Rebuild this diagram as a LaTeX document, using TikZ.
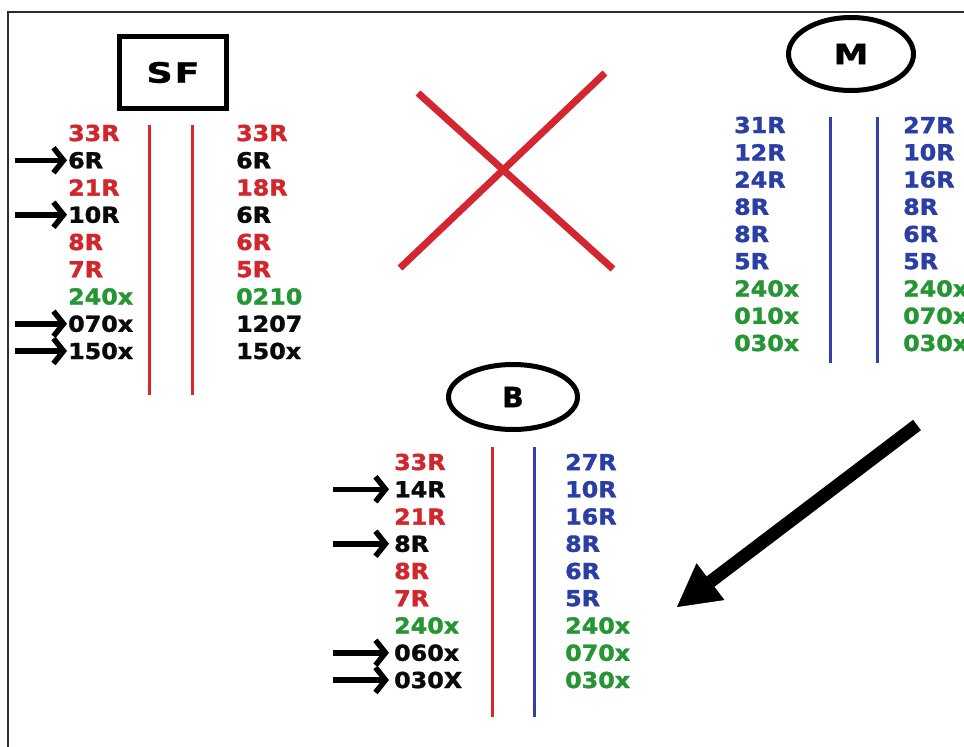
\documentclass[tikz,border=0pt]{standalone}
\usepackage{fontspec}
\usepackage{graphicx}
\setmainfont{DejaVu Sans}
\newfontfamily\numfont{DejaVu Sans}[UprightFont=* Bold,FakeStretch=1.08,FakeBold=1.6]
\newfontfamily\ttlfont{DejaVu Sans}[UprightFont=* Bold,FakeBold=1.2]
\usetikzlibrary{arrows.meta,shapes.geometric}
\definecolor{tred}{RGB}{208,38,44}
\definecolor{tblue}{RGB}{42,62,165}
\definecolor{tgreen}{RGB}{38,150,52}
\definecolor{tblack}{RGB}{10,10,10}
\definecolor{lred}{RGB}{214,40,40}
\definecolor{lblue}{RGB}{52,62,172}
\definecolor{xred}{RGB}{212,38,48}
\definecolor{framegray}{RGB}{45,45,45}
\begin{document}
\begin{tikzpicture}[x=1pt,y=-1pt,
  txt/.style={anchor=west,inner sep=0pt,font=\fontsize{22}{22}\numfont},
  title/.style={inner sep=0pt,line width=5pt,font=\fontsize{28}{28}\ttlfont},
  colline/.style={line width=3pt},
  sarrow/.style={line width=5.5pt,-{Straight Barb[length=10pt,width=25pt]}},
  bigarrow/.style={line width=13pt,-{Triangle[length=42pt,width=46pt,line width=0.5pt]}},
  crossline/.style={line width=7pt,xred}]
\useasboundingbox (0,0) rectangle (964,747);
\clip (0,0) rectangle (964,747);
% frame
\coordinate (f1) at (8,747);
\coordinate (f2) at (8,12);
\coordinate (f3) at (964,12);
\draw[line width=2.2pt,framegray] (f1) -- (f2) -- (f3);

% titles
\node[title,draw,rectangle,minimum width=107pt,minimum height=72pt] (SF) at (173,72.5) {\scalebox{1.3}[1]{S\kern1.5ptF}};
\node[title,draw,ellipse,minimum width=125pt,minimum height=73pt] (M) at (851,54) {\scalebox{1.25}[1]{M}};
\node[title,draw,ellipse,minimum width=129pt,minimum height=65pt] (B) at (513,397) {B};

% vertical lines
\coordinate (sfa1) at (149,125); \coordinate (sfa2) at (149,395);
\coordinate (sfb1) at (192,125); \coordinate (sfb2) at (192,395);
\draw[colline,lred] (sfa1) -- (sfa2);
\draw[colline,lred] (sfb1) -- (sfb2);
\coordinate (ma1) at (830,117); \coordinate (ma2) at (830,363);
\coordinate (mb1) at (877,117); \coordinate (mb2) at (877,363);
\draw[colline,lblue] (ma1) -- (ma2);
\draw[colline,lblue] (mb1) -- (mb2);
\coordinate (ba1) at (492,447); \coordinate (ba2) at (492,717);
\coordinate (bb1) at (534,447); \coordinate (bb2) at (534,717);
\draw[colline,lred] (ba1) -- (ba2);
\draw[colline,lblue] (bb1) -- (bb2);

% SF columns
\foreach \t/\c [count=\i] in {33R/tred,6R/tblack,21R/tred,10R/tblack,8R/tred,7R/tred,240x/tgreen,070x/tblack,150x/tblack}
  \node[txt,text=\c] (sfl\i) at (68,{133+27.25*(\i-1)}) {\t};
\foreach \t/\c [count=\i] in {33R/tred,6R/tblack,18R/tred,6R/tblack,6R/tred,5R/tred,0210/tgreen,1207/tblack,150x/tblack}
  \node[txt,text=\c] (sfr\i) at (236,{133+27.25*(\i-1)}) {\t};

% M columns
\foreach \t/\c [count=\i] in {31R/tblue,12R/tblue,24R/tblue,8R/tblue,8R/tblue,5R/tblue,240x/tgreen,010x/tgreen,030x/tgreen}
  \node[txt,text=\c] (ml\i) at (734,{125+27.25*(\i-1)}) {\t};
\foreach \t/\c [count=\i] in {27R/tblue,10R/tblue,16R/tblue,8R/tblue,6R/tblue,5R/tblue,240x/tgreen,070x/tgreen,030x/tgreen}
  \node[txt,text=\c] (mr\i) at (903,{125+27.25*(\i-1)}) {\t};

% B columns
\foreach \t/\c [count=\i] in {33R/tred,14R/tblack,21R/tred,8R/tblack,8R/tred,7R/tred,240x/tgreen,060x/tblack,030X/tblack}
  \node[txt,text=\c] (bl\i) at (394,{462+27.25*(\i-1)}) {\t};
\foreach \t/\c [count=\i] in {27R/tblue,10R/tblue,16R/tblue,8R/tblue,6R/tblue,5R/tblue,240x/tgreen,070x/tgreen,030x/tgreen}
  \node[txt,text=\c] (br\i) at (565,{462+27.25*(\i-1)}) {\t};

% small arrows
\foreach \i in {2,4,8,9} {
  \coordinate (sfs\i) at (15,{133+27.25*(\i-1)});
  \draw[sarrow] (sfs\i) -- ([xshift=-1pt]sfl\i.west);
  \coordinate (bs\i) at (333,{462+27.25*(\i-1)});
  \draw[sarrow] (bs\i) -- ([xshift=-5pt]bl\i.west);
}

% red cross
\coordinate (x1) at (418,93); \coordinate (x2) at (613,269);
\coordinate (x3) at (400,268); \coordinate (x4) at (605,73);
\draw[crossline] (x1) -- (x2);
\draw[crossline] (x3) -- (x4);

% big arrow
\coordinate (bt) at (917,425);
\coordinate (bh) at (677,607);
\draw[bigarrow] (bt) -- (bh);
\end{tikzpicture}
\end{document}
